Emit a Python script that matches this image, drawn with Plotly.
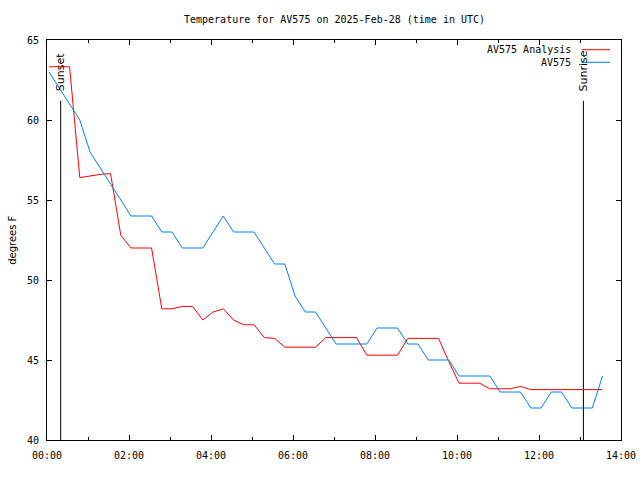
import plotly.graph_objects as go

title_text = "Temperature for AV575 on 2025-Feb-28 (time in UTC)"
date = "2025-02-28"
times = ["00:03", "00:18", "00:33", "00:48", "01:03", "01:18", "01:33", "01:48",
         "02:03", "02:18", "02:33", "02:48", "03:03", "03:18", "03:33", "03:48",
         "04:03", "04:18", "04:33", "04:48", "05:03", "05:18", "05:33", "05:48",
         "06:03", "06:18", "06:33", "06:48", "07:03", "07:18", "07:33", "07:48",
         "08:03", "08:18", "08:33", "08:48", "09:03", "09:18", "09:33", "09:48",
         "10:03", "10:18", "10:33", "10:48", "11:03", "11:18", "11:33", "11:48",
         "12:03", "12:18", "12:33", "12:48", "13:03", "13:18", "13:33"]

analysis = [63.33, 63.33, 63.33, 56.4, 56.5, 56.6, 56.65, 52.8,
            52.0, 52.0, 52.0, 48.2, 48.2, 48.35, 48.35, 47.5,
            48.0, 48.2, 47.5, 47.2, 47.2, 46.4, 46.35, 45.8,
            45.8, 45.8, 45.8, 46.4, 46.4, 46.4, 46.4, 45.3,
            45.3, 45.3, 45.3, 46.35, 46.35, 46.35, 46.35, 44.9,
            43.55, 43.55, 43.55, 43.2, 43.2, 43.2, 43.35, 43.15,
            43.15, 43.15, 43.15, 43.15, 43.15, 43.15, 43.15]

station = [63, 62, 61, 60, 58, 57, 56, 55,
           54, 54, 54, 53, 53, 52, 52, 52,
           53, 54, 53, 53, 53, 52, 51, 51,
           49, 48, 48, 47, 46, 46, 46, 46,
           47, 47, 47, 46, 46, 45, 45, 45,
           44, 44, 44, 44, 43, 43, 43, 42,
           42, 43, 43, 42, 42, 42, 44]

series_names = ["AV575 Analysis", "AV575"]
series_colors = ["#ff0000", "#0080ff"]
sun_events = ["Sunset", "Sunrise"]
sun_times = ["00:20", "13:05"]
y_label = "degrees F"

x = [f"{date} {t}" for t in times]

W, H = 640, 480
ML, MR, MT, MB = 46.7, 19, 40, 40
pw = W - ML - MR
ph = H - MT - MB

def px_x(p):
    return (p - ML) / pw

def px_y(p):
    return 1 - (p - MT) / ph

mono = "DejaVu Sans Mono"
sans = "DejaVu Sans"

fig = go.Figure()
for name, vals, col in zip(series_names, [analysis, station], series_colors):
    fig.add_trace(go.Scatter(x=x, y=vals, mode="lines", name=name,
                             line=dict(color=col, width=1), showlegend=False))

# sunset/sunrise markers
for ev, t in zip(sun_events, sun_times):
    xv = f"{date} {t}"
    fig.add_shape(type="line", xref="x", yref="y", x0=xv, x1=xv, y0=40, y1=61.2,
                  line=dict(color="black", width=1))
    fig.add_annotation(x=xv, y=61.65, xref="x", yref="y", text=ev, textangle=-90,
                       showarrow=False, xanchor="center", yanchor="bottom",
                       font=dict(family=sans, size=11, color="black"))

# custom legend (text left of sample)
for i, (name, col) in enumerate(zip(series_names, series_colors)):
    yy = 49.7 + i * 12.6
    fig.add_annotation(x=px_x(573), y=px_y(yy), xref="paper", yref="paper",
                       text=name, showarrow=False, xanchor="right", yanchor="middle",
                       font=dict(family=mono, size=10, color="black"))
    fig.add_shape(type="line", xref="paper", yref="paper",
                  x0=px_x(581.7), x1=px_x(610), y0=px_y(yy), y1=px_y(yy),
                  line=dict(color=col, width=1))

# title
fig.add_annotation(x=0.5, y=px_y(19), xref="paper", yref="paper", text=title_text,
                   showarrow=False, xanchor="center", yanchor="middle",
                   font=dict(family=mono, size=10, color="black"))
# y label
fig.add_annotation(x=px_x(11.5), y=0.5, xref="paper", yref="paper", text=y_label,
                   textangle=-90, showarrow=False, xanchor="center", yanchor="middle",
                   font=dict(family=sans, size=10, color="black"))

fig.update_layout(
    width=W, height=H,
    margin=dict(l=ML, r=MR, t=MT, b=MB, pad=0, autoexpand=False),
    paper_bgcolor="white", plot_bgcolor="white",
    xaxis=dict(type="date", range=[f"{date} 00:00", f"{date} 14:00"],
               dtick=7200000, tick0=f"{date} 00:00", tickformat="%H:%M",
               ticks="inside", ticklen=5, tickcolor="black", tickwidth=1,
               showline=True, linecolor="black", linewidth=1, mirror="allticks",
               showgrid=False, zeroline=False, ticklabelstandoff=6, automargin=False,
               tickfont=dict(family=mono, size=10, color="black"),
               minor=dict(dtick=3600000, ticks="inside", ticklen=3,
                          tickcolor="black", showgrid=False)),
    yaxis=dict(range=[40, 65], dtick=5, tick0=40,
               ticks="inside", ticklen=5, tickcolor="black", tickwidth=1,
               showline=True, linecolor="black", linewidth=1, mirror="allticks",
               showgrid=False, zeroline=False, ticklabelstandoff=5, automargin=False,
               tickfont=dict(family=mono, size=10, color="black")),
)

fig.write_html("out.html")
